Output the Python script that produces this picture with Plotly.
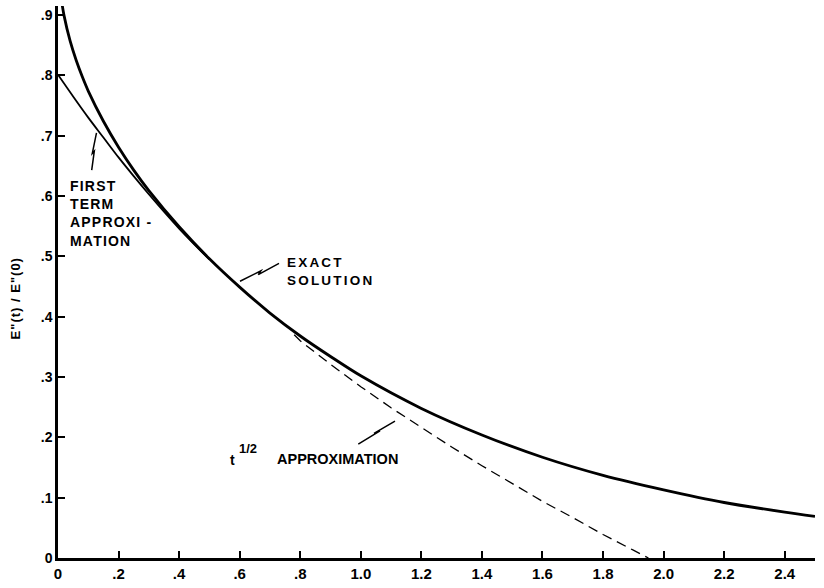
import plotly.graph_objects as go

# ---------------- data ----------------
exact_t = [0.01, 0.02, 0.04, 0.06, 0.08, 0.10, 0.15, 0.20, 0.25, 0.30, 0.40, 0.50,
           0.60, 0.70, 0.80, 0.90, 1.00, 1.20, 1.40, 1.60, 1.80, 2.00, 2.20, 2.40, 2.50]
exact_v = [0.929, 0.899, 0.857, 0.825, 0.798, 0.774, 0.724, 0.681, 0.643, 0.609, 0.549, 0.496,
           0.449, 0.406, 0.368, 0.334, 0.302, 0.248, 0.204, 0.167, 0.137, 0.113, 0.092, 0.076, 0.069]

first_t = [0.00, 0.05, 0.10, 0.15, 0.20, 0.25, 0.30, 0.35, 0.40, 0.45, 0.50]
first_v = [0.801, 0.765, 0.730, 0.697, 0.664, 0.633, 0.603, 0.574, 0.546, 0.520, 0.495]

half_t = [0.78, 0.80, 0.90, 1.00, 1.10, 1.20, 1.30, 1.40, 1.50, 1.60, 1.70, 1.80, 1.90, 1.95]
half_v = [0.370, 0.360, 0.321, 0.284, 0.249, 0.216, 0.184, 0.153, 0.123, 0.094, 0.067, 0.039, 0.013, 0.000]

x_ticks = [0, 0.2, 0.4, 0.6, 0.8, 1.0, 1.2, 1.4, 1.6, 1.8, 2.0, 2.2, 2.4]
x_labels = ["0", ".2", ".4", ".6", ".8", "1.0", "1.2", "1.4", "1.6", "1.8", "2.0", "2.2", "2.4"]
y_ticks = [0, 0.1, 0.2, 0.3, 0.4, 0.5, 0.6, 0.7, 0.8, 0.9]
y_labels = ["0", ".1", ".2", ".3", ".4", ".5", ".6", ".7", ".8", ".9"]

# ---------------- layout geometry ----------------
W, H = 824, 588
ML, MR, MT, MB = 58, 9, 6, 28
XR = [0, 2.5]
YR = [0, 0.915]
PW, PH = W - ML - MR, H - MT - MB


def px2d(px, py):
    x = XR[0] + (px - ML) / PW * (XR[1] - XR[0])
    y = YR[0] + (H - MB - py) / PH * (YR[1] - YR[0])
    return x, y


def px2paper(px, py):
    return (px - ML) / PW, (H - MB - py) / PH


def zig(points):
    pts = [px2d(*p) for p in points]
    return "M " + " L ".join(f"{x:.4f},{y:.4f}" for x, y in pts)


FONT = "Liberation Sans, Arial, sans-serif"

fig = go.Figure()
fig.add_trace(go.Scatter(x=half_t, y=half_v, mode="lines",
                         line=dict(color="black", width=1.3, dash="10px,6px"),
                         showlegend=False, hoverinfo="skip"))
fig.add_trace(go.Scatter(x=first_t, y=first_v, mode="lines",
                         line=dict(color="black", width=1.8, shape="spline"),
                         showlegend=False, hoverinfo="skip"))
fig.add_trace(go.Scatter(x=exact_t, y=exact_v, mode="lines",
                         line=dict(color="black", width=2.8, shape="spline", smoothing=0.8),
                         showlegend=False, hoverinfo="skip"))

# lightning-style pointer marks
arrows = [
    [(91.7, 170.7), (94.3, 151.7), (92.3, 154.0), (96.5, 133.3)],
    [(240, 282.3), (261, 271.7), (258.3, 275.7), (279, 264.3)],
    [(358.3, 445.7), (380, 432.3), (374, 435), (395, 422.7)],
]
for a in arrows:
    fig.add_shape(type="path", path=zig(a), xref="x", yref="y",
                  line=dict(color="black", width=1.5))


def add_text(px, py, text, xanchor="left", yanchor="middle", size=15, angle=0,
             align="left", spacing=None):
    x, y = px2paper(px, py)
    if spacing is not None:
        text = "<br>".join(f'<span style="letter-spacing:{spacing}px">{ln}</span>'
                           for ln in text.split("<br>"))
    fig.add_annotation(x=x, y=y, xref="paper", yref="paper", text=text, showarrow=False,
                       xanchor=xanchor, yanchor=yanchor, align=align, textangle=angle,
                       font=dict(family=FONT, size=size, color="black", weight="bold"))


add_text(68, 177, "FIRST<br>TERM<br>APPROXI -<br>MATION", yanchor="top", size=14, spacing=1.2)
add_text(285, 254, "EXACT<br>SOLUTION", yanchor="top", size=13.5, spacing=2.2)
add_text(228, 462, "t", size=14)
add_text(237, 450, "1/2", size=13)
add_text(275, 461, "APPROXIMATION", size=14.5)
add_text(15.5, 300, 'E"(t) / E"(0)', xanchor="center", size=13, angle=-90, spacing=1)

axis_common = dict(showline=True, linecolor="black", linewidth=2.5, ticks="inside",
                   ticklen=7, tickwidth=2, tickcolor="black", showgrid=False,
                   zeroline=False, fixedrange=True)

fig.update_layout(
    width=W, height=H,
    margin=dict(l=ML, r=MR, t=MT, b=MB),
    paper_bgcolor="white", plot_bgcolor="white",
    xaxis=dict(range=XR, tickvals=x_ticks, ticktext=x_labels,
               tickfont=dict(family=FONT, size=15, color="black", weight="bold"),
               **axis_common),
    yaxis=dict(range=YR, tickvals=y_ticks, ticktext=y_labels,
               tickfont=dict(family=FONT, size=14, color="black", weight="bold"),
               **axis_common),
)

fig.write_html("out.html", config={"displayModeBar": False},
               post_script="document.body.style.margin='0';document.body.style.padding='0';")
